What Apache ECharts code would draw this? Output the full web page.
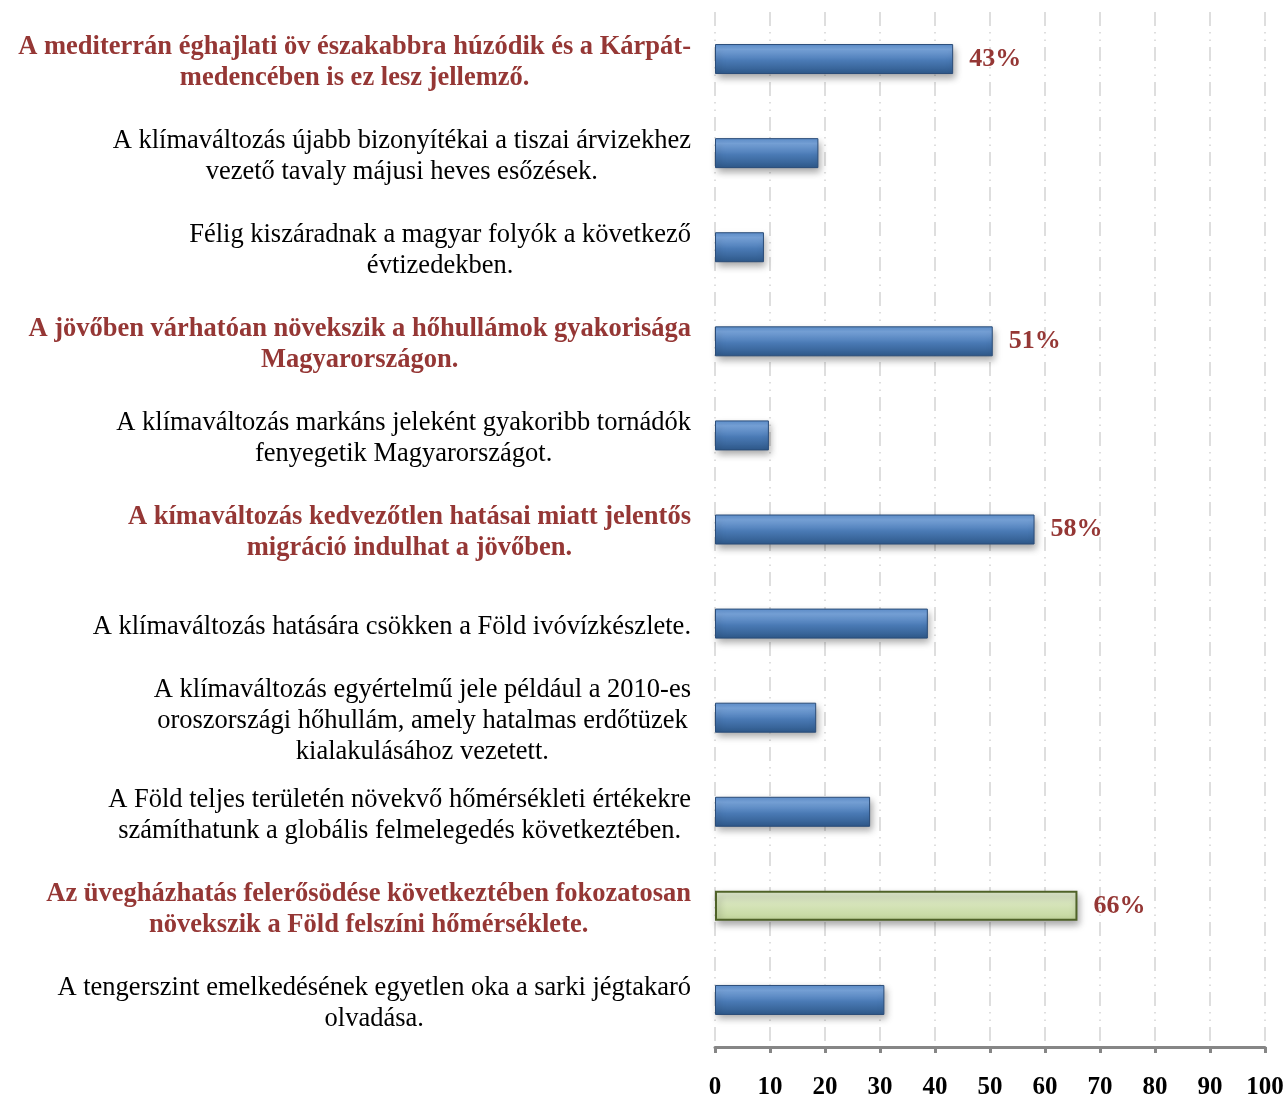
<!DOCTYPE html>
<html>
<head>
<meta charset="utf-8">
<script src="https://cdn.jsdelivr.net/npm/echarts@6/dist/echarts.min.js"></script>
<style>
  html, body { margin: 0; padding: 0; background: #fff; }
  #chart { width: 1286px; height: 1097px; }
</style>
</head>
<body>
<div id="chart"></div>
<script>
// kategóriák (sortörésekkel, ahogy a képen)
const categories = [
  'A mediterrán éghajlati öv északabbra húzódik és a Kárpát-\nmedencében is ez lesz jellemző.',
  'A klímaváltozás újabb bizonyítékai a tiszai árvizekhez\nvezető tavaly májusi heves esőzések.',
  'Félig kiszáradnak a magyar folyók a következő\névtizedekben.',
  'A jövőben várhatóan növekszik a hőhullámok gyakorisága\nMagyarországon.',
  'A klímaváltozás markáns jeleként gyakoribb tornádók\nfenyegetik Magyarországot.',
  'A kímaváltozás kedvezőtlen hatásai miatt jelentős\nmigráció indulhat a jövőben.',
  'A klímaváltozás hatására csökken a Föld ivóvízkészlete.',
  'A klímaváltozás egyértelmű jele például a 2010-es\noroszországi hőhullám, amely hatalmas erdőtüzek\nkialakulásához vezetett.',
  'A Föld teljes területén növekvő hőmérsékleti értékekre\nszámíthatunk a globális felmelegedés következtében.',
  'Az üvegházhatás felerősödése következtében fokozatosan\nnövekszik a Föld felszíni hőmérséklete.',
  'A tengerszint emelkedésének egyetlen oka a sarki jégtakaró\nolvadása.'
];
const values = [43.3, 18.8, 8.9, 50.5, 9.8, 58.1, 38.7, 18.4, 28.2, 65.9, 30.8];
// kiemelt állítások (piros, félkövér felirat + érték címke)
const highlighted = [0, 3, 5, 9];
const greenIndex = 9;
const xTicks = [0, 10, 20, 30, 40, 50, 60, 70, 80, 90, 100];

const FONT = '"Liberation Serif", "Times New Roman", serif';
const RED = '#953735';

const chart = echarts.init(document.getElementById('chart'), null, { renderer: 'canvas' });

const blueFill = new echarts.graphic.LinearGradient(0, 0, 0, 1, [
  { offset: 0, color: '#5d8fcc' },
  { offset: 0.18, color: '#79a5dc' },
  { offset: 0.55, color: '#4a7ab5' },
  { offset: 1, color: '#2e5889' }
]);
const greenFill = new echarts.graphic.LinearGradient(0, 0, 0, 1, [
  { offset: 0, color: '#e4edd2' },
  { offset: 0.5, color: '#d4e3b7' },
  { offset: 1, color: '#c2d69b' }
]);

const barData = values.map((v, i) => {
  const hi = highlighted.indexOf(i) >= 0;
  const green = i === greenIndex;
  return {
    value: v,
    itemStyle: {
      color: green ? greenFill : blueFill,
      borderColor: green ? '#4f6228' : '#2a4c78',
      borderWidth: green ? 2 : 1,
      shadowColor: 'rgba(0,0,0,0.35)',
      shadowBlur: 7,
      shadowOffsetX: 2,
      shadowOffsetY: 4
    },
    label: { show: hi }
  };
});

const option = {
  backgroundColor: '#fff',
  animation: false,
  grid: { left: 715, right: 21, top: 12, bottom: 50, containLabel: false, outerBoundsMode: 'none' },
  xAxis: {
    type: 'value',
    min: xTicks[0],
    max: xTicks[xTicks.length - 1],
    interval: 10,
    axisLine: { show: true, lineStyle: { color: '#868686', width: 3 } },
    axisTick: { show: true, length: 6, lineStyle: { color: '#868686', width: 3 } },
    axisLabel: {
      margin: 28,
      color: '#000',
      fontFamily: FONT,
      fontWeight: 'bold',
      fontSize: 25
    },
    splitLine: {
      show: true,
      lineStyle: { color: '#d4d4d4', width: 1.5, type: [14, 6, 1.5, 6, 1.5, 6] }
    }
  },
  yAxis: {
    type: 'category',
    inverse: true,
    data: categories,
    axisLine: { show: false },
    axisTick: { show: false },
    axisLabel: {
      interval: 0,
      margin: 24,
      align: 'right',
      padding: [7, 0, 0, 0],
      formatter: function (val, idx) {
        const key = highlighted.indexOf(idx) >= 0 ? 'b' : 'n';
        return val.split('\n').map(l => '{' + key + '|' + l + '}').join('\n');
      },
      rich: {
        n: { align: 'center', fontFamily: FONT, fontSize: 26.5, color: '#000', lineHeight: 31 },
        b: { align: 'center', fontFamily: FONT, fontSize: 26.5, fontWeight: 'bold', color: RED, lineHeight: 31 }
      }
    }
  },
  series: [{
    type: 'bar',
    data: barData,
    barWidth: 30,
    label: {
      position: 'right',
      distance: 16,
      color: RED,
      fontFamily: FONT,
      fontWeight: 'bold',
      fontSize: 26,
      formatter: p => Math.round(p.value) + '%'
    }
  }]
};

chart.setOption(option);
</script>
</body>
</html>
